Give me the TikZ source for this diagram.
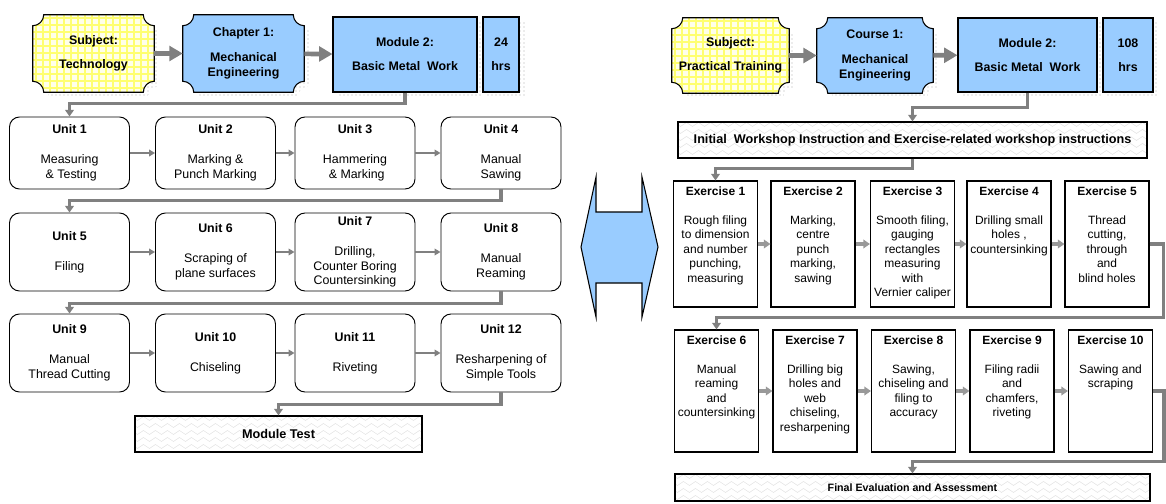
\documentclass[tikz,border=0pt]{standalone}
\usepackage{fontspec}
\setmainfont{Liberation Sans}
\usetikzlibrary{positioning,arrows.meta,calc,patterns,decorations.pathmorphing}
\definecolor{cBlue}{HTML}{99CCFF}
\definecolor{cLine}{HTML}{808080}
\definecolor{cArrow}{HTML}{999999}
\definecolor{cGridBg}{HTML}{FFFFEA}
\definecolor{cGrid}{HTML}{FFFF70}
\newcommand{\pxu}{0.75pt}
\pgfdeclarelayer{background}
\pgfsetlayers{background,main}

% box with concave corners, #2 = shift
\newcommand{\plaquepath}[2]{%
  ($(#1.north west)+(11,0)+#2$) -- ($(#1.north east)+(-11,0)+#2$)
  .. controls ($(#1.north east)+(-11,6)+#2$) and ($(#1.north east)+(-6,11)+#2$) .. ($(#1.north east)+(0,11)+#2$)
  -- ($(#1.south east)+(0,-11)+#2$)
  .. controls ($(#1.south east)+(-6,-11)+#2$) and ($(#1.south east)+(-11,-6)+#2$) .. ($(#1.south east)+(-11,0)+#2$)
  -- ($(#1.south west)+(11,0)+#2$)
  .. controls ($(#1.south west)+(11,-6)+#2$) and ($(#1.south west)+(6,-11)+#2$) .. ($(#1.south west)+(0,-11)+#2$)
  -- ($(#1.north west)+(0,11)+#2$)
  .. controls ($(#1.north west)+(6,11)+#2$) and ($(#1.north west)+(11,6)+#2$) .. ($(#1.north west)+(11,0)+#2$)
  -- cycle}
\newcommand{\plaque}[2]{%
  \begin{pgfonlayer}{background}
    \path[shadowfill] \plaquepath{#1}{(5,5)};
    \fill[#2] \plaquepath{#1}{(0,0)};
  \end{pgfonlayer}
  \draw[line width=0.8pt] \plaquepath{#1}{(0,0)};}
\newcommand{\plaquegrid}[1]{%
  \begin{pgfonlayer}{background}
    \path[shadowfill] \plaquepath{#1}{(5,5)};
    \fill[cGridBg] \plaquepath{#1}{(0,0)};
    \begin{scope}
      \clip \plaquepath{#1}{(0,0)};
      \foreach \g in {0,7,...,126}
        \draw[gridline] ($(#1.north west)+(\g+3,0)$) -- ($(#1.south west)+(\g+3,0)$);
      \foreach \g in {0,7,...,84}
        \draw[gridline] ($(#1.north west)+(0,\g+3)$) -- ($(#1.north east)+(0,\g+3)$);
    \end{scope}
  \end{pgfonlayer}
  \draw[line width=0.8pt] \plaquepath{#1}{(0,0)};}
\newcommand{\boxshadow}[1]{%
  \begin{pgfonlayer}{background}
    \path[shadowfill] ($(#1.north west)+(5,5)$) rectangle ($(#1.south east)+(5,5)$);
  \end{pgfonlayer}}
\newcommand{\zigzagfill}[1]{%
  \begin{pgfonlayer}{background}
    \begin{scope}
      \clip (#1.north west) rectangle (#1.south east);
      \foreach \k in {0,...,6}
        \draw[zzline] ($(#1.north west)+(-6,\k*7+3)$) -- ($(#1.north east)+(6,\k*7+3)$);
    \end{scope}
  \end{pgfonlayer}}
\newcommand{\extext}[3]{\parbox[c][#1][t]{62pt}{\centering\textbf{#2}\\[11pt]#3}}

\tikzset{
  hdtext/.style={font=\fontsize{9.3}{11.2}\selectfont\bfseries, align=center, inner sep=0pt},
  plaquenode/.style={hdtext, minimum width=121*\pxu, minimum height=77*\pxu},
  modbox/.style={hdtext, draw, fill=cBlue, line width=0.8pt},
  unitbox/.style={draw, rounded corners=7.5pt, line width=0.7pt, minimum width=120*\pxu,
    minimum height=78*\pxu, align=center, inner sep=1pt, font=\fontsize{9.3}{11.2}\selectfont},
  exbox/.style={draw, line width=0.8pt, minimum width=84*\pxu, inner sep=0pt,
    font=\fontsize{9}{10.8}\selectfont},
  bandbox/.style={draw, line width=0.8pt, inner sep=0pt, font=\fontsize{9.5}{11}\selectfont\bfseries},
  harrow/.style={cLine, line width=3.5pt, -{Triangle[length=10pt,width=11pt]}},
  loopline/.style={cLine, line width=2.6pt, -{Triangle[length=5pt,width=6.5pt]}},
  uarrow/.style={cLine, line width=1.6pt, -{Triangle[length=4.5pt,width=5pt]}},
  exarrow/.style={cArrow, line width=2.4pt, -{Triangle[length=5pt,width=6.5pt]}},
  shadowfill/.style={pattern=dots, pattern color=gray!65},
  gridline/.style={cGrid, line width=1.8pt},
  zzline/.style={gray!22, line width=0.4pt, decorate,
    decoration={zigzag, segment length=9pt, amplitude=1.5pt}},
}

\begin{document}
\begin{tikzpicture}[x=0.75pt,y=-0.75pt]
\useasboundingbox (0,0) rectangle (1166,503);

% ---- left: Technology
\node[plaquenode] (subjL) at (93.5,53.5) {Subject:\\[6.8pt]Technology};
\plaquegrid{subjL}
\node[plaquenode] (chapL) at (243.5,53.5) {Chapter 1:\\[7.5pt]Mechanical\\Engineering};
\plaque{chapL}{cBlue}
\node[modbox, minimum width=144*\pxu, minimum height=75*\pxu] (modL) at (405,54.5) {Module 2:\\[6.8pt]Basic Metal\ \ Work};
\boxshadow{modL}
\node[modbox, minimum width=36*\pxu, minimum height=75*\pxu] (hrsL) at (501,54.5) {24\\[6.8pt]hrs};
\boxshadow{hrsL}
\draw[harrow] (subjL) -- (chapL);
\draw[harrow] (chapL) -- (modL);

\node[unitbox, minimum height=72*\pxu] (unit1) at (69.5,153) {\textbf{Unit 1}\\[11pt]Measuring\\\ \& Testing};
\node[unitbox, minimum height=72*\pxu] (unit2) at (215.5,153) {\textbf{Unit 2}\\[11pt]Marking \&\\Punch Marking};
\node[unitbox, minimum height=72*\pxu] (unit3) at (355,153) {\textbf{Unit 3}\\[11pt]Hammering\\\ \& Marking};
\node[unitbox, minimum height=72*\pxu] (unit4) at (501,153) {\textbf{Unit 4}\\[11pt]Manual\\Sawing};
\node[unitbox] (unit5) at (69.5,252) {\textbf{Unit 5}\\[11pt]Filing};
\node[unitbox] (unit6) at (215.5,252) {\textbf{Unit 6}\\[11pt]Scraping of\\plane surfaces};
\node[unitbox] (unit7) at (355,252) {\textbf{Unit 7}\\[11pt]Drilling,\\Counter Boring\\Countersinking};
\node[unitbox] (unit8) at (501,252) {\textbf{Unit 8}\\[11pt]Manual\\Reaming};
\node[unitbox] (unit9) at (69.5,353) {\textbf{Unit 9}\\[11pt]Manual\\Thread Cutting};
\node[unitbox] (unit10) at (215.5,353) {\textbf{Unit 10}\\[11pt]Chiseling};
\node[unitbox] (unit11) at (355,353) {\textbf{Unit 11}\\[11pt]Riveting};
\node[unitbox] (unit12) at (501,353) {\textbf{Unit 12}\\[11pt]Resharpening of\\Simple Tools};
\node[bandbox, minimum width=287*\pxu, minimum height=36*\pxu] (modtest) at (278.5,434) {Module Test};
\zigzagfill{modtest}

\draw[loopline] (modL.south) -- ++(0,11) -| (unit1.north);
\draw[uarrow] (unit1) -- (unit2);
\draw[uarrow] (unit2) -- (unit3);
\draw[uarrow] (unit3) -- (unit4);
\draw[loopline] (unit4.south) -- ++(0,11) -| (unit5.north);
\draw[uarrow] (unit5) -- (unit6);
\draw[uarrow] (unit6) -- (unit7);
\draw[uarrow] (unit7) -- (unit8);
\draw[loopline] (unit8.south) -- ++(0,12) -| (unit9.north);
\draw[uarrow] (unit9) -- (unit10);
\draw[uarrow] (unit10) -- (unit11);
\draw[uarrow] (unit11) -- (unit12);
\draw[loopline] (unit12.south) -- ++(0,12) -| (modtest.north);

% ---- double arrow
\draw[fill=cBlue, line width=0.8pt] (596,177) -- (596,212) -- (642,212) -- (642,177) -- (658,247)
  -- (642,317) -- (642,283) -- (596,283) -- (596,317) -- (581,247) -- cycle;

% ---- right: Practical Training
\node[plaquenode, minimum width=117*\pxu, minimum height=75*\pxu] (subjR) at (730.5,55.5) {Subject:\\[6.8pt]Practical Training};
\plaquegrid{subjR}
\node[plaquenode, minimum width=116*\pxu, minimum height=75*\pxu] (courseR) at (875,55.5) {Course 1:\\[7.5pt]Mechanical\\Engineering};
\plaque{courseR}{cBlue}
\node[modbox, minimum width=139*\pxu, minimum height=74*\pxu] (modR) at (1027.5,55) {Module 2:\\[6.8pt]Basic Metal\ \ Work};
\boxshadow{modR}
\node[modbox, minimum width=50*\pxu, minimum height=74*\pxu] (hrsR) at (1128,55) {108\\[6.8pt]hrs};
\boxshadow{hrsR}
\draw[harrow] (subjR) -- (courseR);
\draw[harrow] (courseR) -- (modR);

\node[bandbox, minimum width=469*\pxu, minimum height=36*\pxu] (initR) at (912.5,140) {Initial\ \ Workshop Instruction and Exercise-related workshop instructions};
\zigzagfill{initR}

\node[exbox, minimum height=126*\pxu] (ex1) at (715.5,244) {\extext{86pt}{Exercise 1}{Rough filing\\to dimension\\and number\\punching,\\measuring}};
\node[exbox, minimum height=126*\pxu] (ex2) at (813,244) {\extext{86pt}{Exercise 2}{Marking,\\centre\\punch\\marking,\\sawing}};
\node[exbox, minimum height=126*\pxu] (ex3) at (912.5,244) {\extext{86pt}{Exercise 3}{Smooth filing,\\gauging\\rectangles\\measuring\\with\\Vernier caliper}};
\node[exbox, minimum height=126*\pxu] (ex4) at (1009,244) {\extext{86pt}{Exercise 4}{Drilling small\\holes ,\\countersinking}};
\node[exbox, minimum height=126*\pxu] (ex5) at (1107,244) {\extext{86pt}{Exercise 5}{Thread\\cutting,\\through\\and\\blind holes}};
\node[exbox, minimum height=122*\pxu] (ex6) at (716.5,391) {\extext{83pt}{Exercise 6}{Manual\\reaming\\and\\countersinking}};
\node[exbox, minimum height=122*\pxu] (ex7) at (815,391) {\extext{83pt}{Exercise 7}{Drilling big\\holes and\\web\\chiseling,\\resharpening}};
\node[exbox, minimum height=122*\pxu] (ex8) at (913.5,391) {\extext{83pt}{Exercise 8}{Sawing,\\chiseling and\\filing to\\accuracy}};
\node[exbox, minimum height=122*\pxu] (ex9) at (1012,391) {\extext{83pt}{Exercise 9}{Filing radii\\and\\chamfers,\\riveting}};
\node[exbox, minimum height=122*\pxu] (ex10) at (1110.5,391) {\extext{83pt}{Exercise 10}{Sawing and\\scraping}};

\node[bandbox, minimum width=475*\pxu, minimum height=27*\pxu, font=\fontsize{8}{10}\selectfont\bfseries] (finalR) at (912.5,487.5) {Final Evaluation and Assessment};
\zigzagfill{finalR}

\draw[loopline] (modR.south) -- ++(0,15) -| (initR.north);
\draw[loopline] (initR.south) -- ++(0,10) -| (ex1.north);
\draw[exarrow] (ex1) -- (ex2);
\draw[exarrow] (ex2) -- (ex3);
\draw[exarrow] (ex3) -- (ex4);
\draw[exarrow] (ex4) -- (ex5);
\draw[loopline] (ex5.east) -- ++(14,0) |- ($(ex6.north)+(0,-12)$) -- (ex6.north);
\draw[exarrow] (ex6) -- (ex7);
\draw[exarrow] (ex7) -- (ex8);
\draw[exarrow] (ex8) -- (ex9);
\draw[exarrow] (ex9) -- (ex10);
\draw[loopline] (ex10.east) -- ++(11,0) |- ($(finalR.north)+(0,-12)$) -- (finalR.north);
\end{tikzpicture}
\end{document}
